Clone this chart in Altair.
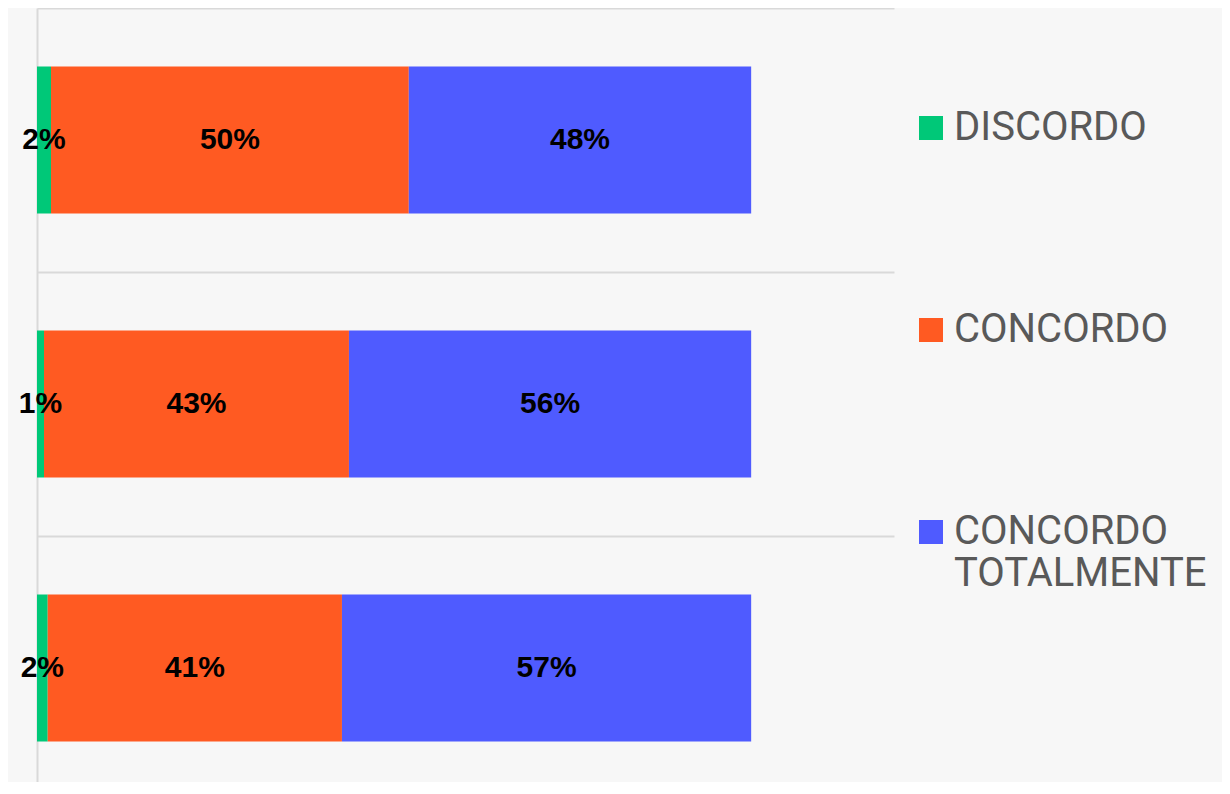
import altair as alt
import pandas as pd

categories = ["Item 1", "Item 2", "Item 3"]
responses = ["DISCORDO", "CONCORDO", "CONCORDO TOTALMENTE"]
discordo = [0.0196, 0.0098, 0.015]
concordo = [0.501, 0.427, 0.412]
totalmente = [0.4794, 0.5632, 0.573]
colors = ["#00C878", "#FF5A22", "#4F5BFF"]

rows = []
for i, c in enumerate(categories):
    for j, (r, vals) in enumerate(zip(responses, [discordo, concordo, totalmente])):
        rows.append({"cat": c, "resp": r, "ord": j, "value": vals[i]})
df = pd.DataFrame(rows)

base = alt.Chart(df).transform_stack(
    stack="value", groupby=["cat"], sort=[alt.SortField("ord")], as_=["x0", "x1"]
).transform_calculate(mid="(datum.x0 + datum.x1) / 2")

y_scale = alt.Scale(paddingInner=0, paddingOuter=0, range=[0, 792])
y_enc = alt.Y(
    "cat:N",
    sort=categories,
    scale=y_scale,
    axis=alt.Axis(
        title=None, labels=False, ticks=False, domain=True,
        domainColor="#D9D9D9", domainWidth=2,
        grid=True, gridColor="#D9D9D9", gridWidth=2, bandPosition=0,
    ),
)
x_scale = alt.Scale(domain=[0, 1.2], nice=False)

bars = base.mark_bar(size=147).encode(
    x=alt.X("x0:Q", scale=x_scale, axis=None),
    x2="x1:Q",
    y=y_enc,
    color=alt.Color(
        "resp:N",
        sort=responses,
        scale=alt.Scale(domain=responses, range=colors),
        legend=alt.Legend(
            title=None, orient="none", legendX=874, legendY=100,
            symbolType="square", symbolSize=576, symbolStrokeWidth=0,
            symbolOpacity=1,
            labelFontSize=40, labelFont="Roboto", labelColor="#595959",
            labelOffset=3, rowPadding=162, labelLimit=500, padding=0,
            labelExpr="datum.label == 'CONCORDO TOTALMENTE' ? ['CONCORDO', 'TOTALMENTE'] : datum.label",
        ),
    ),
)

text = base.mark_text(
    font="Liberation Sans", fontSize=30, fontWeight="bold", color="black",
    align="center", baseline="middle",
).encode(
    x=alt.X("mid:Q", scale=x_scale, axis=None),
    y=alt.Y("cat:N", sort=categories, scale=y_scale),
    text=alt.Text("value:Q", format=".0%"),
)

chart = alt.layer(bars, text).properties(
    width=857, height=774,
    autosize=alt.AutoSizeParams(type="none"),
    padding={"left": 29, "top": 0, "right": 328, "bottom": 0},
    background="#F7F7F7",
).configure_view(stroke=None)

chart.save("out.html", embed_options={"renderer": "svg", "actions": False})
